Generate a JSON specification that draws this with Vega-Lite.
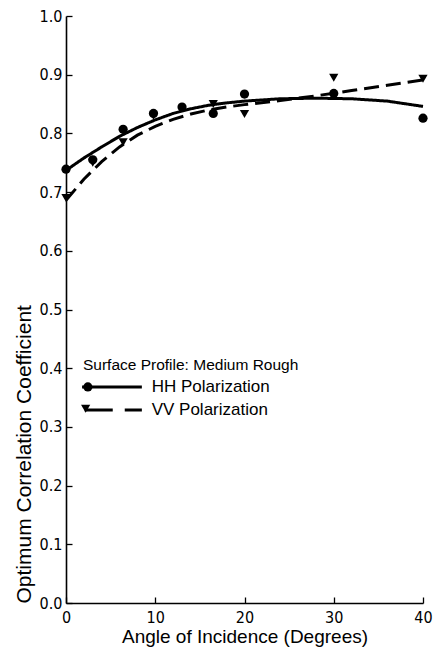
{
  "$schema": "https://vega.github.io/schema/vega-lite/v6.json",
  "width": 357,
  "height": 587,
  "autosize": {"type": "none"},
  "padding": {"left": 66, "top": 16, "right": 11, "bottom": 49},
  "background": "white",
  "config": {
    "view": {"stroke": null},
    "font": "Liberation Sans",
    "axis": {
      "grid": false,
      "domainColor": "black",
      "domainWidth": 1.6,
      "tickColor": "black",
      "tickWidth": 1.3,
      "labelColor": "black",
      "titleColor": "black",
      "labelFont": "DejaVu Sans Condensed",
      "titleFont": "Liberation Sans",
      "titleFontWeight": "normal",
      "labelFontSize": 16
    },
    "text": {"font": "Liberation Sans", "fontSize": 17, "color": "black", "align": "left", "baseline": "middle"}
  },
  "datasets": {
    "curves": [
      {"angle": 0, "coef": 0.737, "series": "HH Polarization"},
      {"angle": 2, "coef": 0.758, "series": "HH Polarization"},
      {"angle": 4, "coef": 0.777, "series": "HH Polarization"},
      {"angle": 6, "coef": 0.795, "series": "HH Polarization"},
      {"angle": 8, "coef": 0.810, "series": "HH Polarization"},
      {"angle": 10, "coef": 0.823, "series": "HH Polarization"},
      {"angle": 12, "coef": 0.834, "series": "HH Polarization"},
      {"angle": 14, "coef": 0.842, "series": "HH Polarization"},
      {"angle": 16, "coef": 0.848, "series": "HH Polarization"},
      {"angle": 18, "coef": 0.852, "series": "HH Polarization"},
      {"angle": 20, "coef": 0.855, "series": "HH Polarization"},
      {"angle": 24, "coef": 0.859, "series": "HH Polarization"},
      {"angle": 28, "coef": 0.860, "series": "HH Polarization"},
      {"angle": 32, "coef": 0.859, "series": "HH Polarization"},
      {"angle": 36, "coef": 0.855, "series": "HH Polarization"},
      {"angle": 40, "coef": 0.846, "series": "HH Polarization"},
      {"angle": 0, "coef": 0.686, "series": "VV Polarization"},
      {"angle": 2, "coef": 0.722, "series": "VV Polarization"},
      {"angle": 4, "coef": 0.752, "series": "VV Polarization"},
      {"angle": 6, "coef": 0.777, "series": "VV Polarization"},
      {"angle": 8, "coef": 0.797, "series": "VV Polarization"},
      {"angle": 10, "coef": 0.812, "series": "VV Polarization"},
      {"angle": 12, "coef": 0.824, "series": "VV Polarization"},
      {"angle": 14, "coef": 0.833, "series": "VV Polarization"},
      {"angle": 16, "coef": 0.840, "series": "VV Polarization"},
      {"angle": 18, "coef": 0.845, "series": "VV Polarization"},
      {"angle": 20, "coef": 0.849, "series": "VV Polarization"},
      {"angle": 24, "coef": 0.856, "series": "VV Polarization"},
      {"angle": 28, "coef": 0.864, "series": "VV Polarization"},
      {"angle": 32, "coef": 0.873, "series": "VV Polarization"},
      {"angle": 36, "coef": 0.882, "series": "VV Polarization"},
      {"angle": 40, "coef": 0.891, "series": "VV Polarization"}
    ],
    "points": [
      {"angle": 0, "coef": 0.739, "series": "HH Polarization"},
      {"angle": 3, "coef": 0.755, "series": "HH Polarization"},
      {"angle": 6.4, "coef": 0.807, "series": "HH Polarization"},
      {"angle": 9.8, "coef": 0.834, "series": "HH Polarization"},
      {"angle": 13, "coef": 0.845, "series": "HH Polarization"},
      {"angle": 16.5, "coef": 0.834, "series": "HH Polarization"},
      {"angle": 20, "coef": 0.867, "series": "HH Polarization"},
      {"angle": 30, "coef": 0.868, "series": "HH Polarization"},
      {"angle": 40, "coef": 0.826, "series": "HH Polarization"},
      {"angle": 0, "coef": 0.69, "series": "VV Polarization"},
      {"angle": 3, "coef": 0.75, "series": "VV Polarization"},
      {"angle": 6.4, "coef": 0.785, "series": "VV Polarization"},
      {"angle": 9.8, "coef": 0.83, "series": "VV Polarization"},
      {"angle": 16.5, "coef": 0.85, "series": "VV Polarization"},
      {"angle": 20, "coef": 0.833, "series": "VV Polarization"},
      {"angle": 30, "coef": 0.895, "series": "VV Polarization"},
      {"angle": 40, "coef": 0.893, "series": "VV Polarization"}
    ]
  },
  "layer": [
    {
      "data": {"name": "curves"},
      "mark": {"type": "line", "color": "black", "strokeWidth": 3},
      "encoding": {
        "x": {
          "field": "angle",
          "type": "quantitative",
          "scale": {"domain": [0, 40], "nice": false},
          "axis": {
            "title": "Angle of Incidence (Degrees)",
            "titleFontSize": 19,
            "values": [0, 10, 20, 30, 40],
            "tickSize": -6,
            "labelPadding": 12,
            "labelFlush": false,
            "titlePadding": 2
          }
        },
        "y": {
          "field": "coef",
          "type": "quantitative",
          "scale": {"domain": [0, 1], "nice": false},
          "axis": {
            "title": "Optimum Correlation Coefficient",
            "titleFontSize": 21,
            "values": [0, 0.1, 0.2, 0.3, 0.4, 0.5, 0.6, 0.7, 0.8, 0.9, 1.0],
            "format": ".1f",
            "tickSize": -6,
            "labelPadding": 10,
            "titleAnchor": "start",
            "titlePadding": 5
          }
        },
        "strokeDash": {
          "field": "series",
          "type": "nominal",
          "scale": {"domain": ["HH Polarization", "VV Polarization"], "range": [[1, 0], [15, 7]]},
          "legend": null
        }
      }
    },
    {
      "data": {"name": "points"},
      "mark": {"type": "point", "filled": true, "color": "black", "opacity": 1, "size": 85},
      "encoding": {
        "x": {"field": "angle", "type": "quantitative"},
        "y": {"field": "coef", "type": "quantitative"},
        "shape": {
          "field": "series",
          "type": "nominal",
          "scale": {"domain": ["HH Polarization", "VV Polarization"], "range": ["circle", "triangle-down"]},
          "legend": null
        }
      }
    },
    {
      "data": {"values": [{}]},
      "mark": {"type": "text", "text": "Surface Profile:  Medium Rough", "fontSize": 15.5},
      "encoding": {
        "x": {"datum": 1.9, "type": "quantitative"},
        "y": {"datum": 0.405, "type": "quantitative"}
      }
    },
    {
      "data": {"values": [{}]},
      "mark": {"type": "rule", "color": "black", "strokeWidth": 3},
      "encoding": {
        "x": {"datum": 1.8, "type": "quantitative"},
        "x2": {"datum": 8.5},
        "y": {"datum": 0.368, "type": "quantitative"}
      }
    },
    {
      "data": {"values": [{}]},
      "mark": {"type": "point", "shape": "circle", "filled": true, "color": "black", "opacity": 1, "size": 85},
      "encoding": {
        "x": {"datum": 2.45, "type": "quantitative"},
        "y": {"datum": 0.368, "type": "quantitative"}
      }
    },
    {
      "data": {"values": [{}]},
      "mark": {"type": "text", "text": "HH Polarization"},
      "encoding": {
        "x": {"datum": 9.6, "type": "quantitative"},
        "y": {"datum": 0.368, "type": "quantitative"}
      }
    },
    {
      "data": {"values": [{}]},
      "mark": {"type": "rule", "color": "black", "strokeWidth": 3, "strokeDash": [28, 12]},
      "encoding": {
        "x": {"datum": 2.1, "type": "quantitative"},
        "x2": {"datum": 8.5},
        "y": {"datum": 0.329, "type": "quantitative"}
      }
    },
    {
      "data": {"values": [{}]},
      "mark": {"type": "point", "shape": "triangle-down", "filled": true, "color": "black", "opacity": 1, "size": 85},
      "encoding": {
        "x": {"datum": 2.2, "type": "quantitative"},
        "y": {"datum": 0.331, "type": "quantitative"}
      }
    },
    {
      "data": {"values": [{}]},
      "mark": {"type": "text", "text": "VV Polarization"},
      "encoding": {
        "x": {"datum": 9.6, "type": "quantitative"},
        "y": {"datum": 0.329, "type": "quantitative"}
      }
    }
  ]
}
